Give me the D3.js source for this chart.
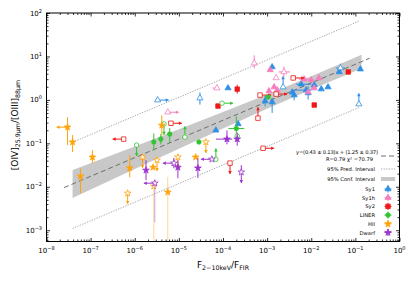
<!DOCTYPE html>
<meta charset="utf-8">
<head>
<script src="https://d3js.org/d3.v7.min.js"></script>
<style>
  body { margin: 0; background: #fff; }
  text { font-family: "DejaVu Sans", sans-serif; fill: #000; }
</style>
</head>
<body>
<div id="chart"></div>
<script>
// ---- data ----
// row: [x, y, open, limit(l/r/u/d), xerrLo, xerrHi, yerrLo, yerrHi]  (errors in dex)
var sy1 = [
  [1.3e-4, 1.87, 0, ''], [6.9e-5, 0.20, 0, ''], [2.2e-4, 0.28, 0, ''],
  [9.0e-4, 0.94, 0, '', 0, 0, 0.12, 0.12], [1.3e-3, 0.89, 0, '', 0, 0, 0.25, 0.1],
  [1.3e-3, 5.7, 0, ''], [3.7e-3, 1.5, 0, ''], [4.1e-3, 1.29, 0, '', 0, 0, 0.12, 0.12],
  [5.9e-3, 2.3, 0, '', 0.12, 0.23], [7.7e-3, 1.68, 0, '', 0.25, 0.12],
  [1.17e-2, 2.19, 0, '', 0, 0, 0.1, 0.1], [8.5e-3, 1.44, 0, '', 0, 0, 0.15, 0.15],
  [1.69e-2, 1.77, 0, ''], [2.4e-2, 1.97, 0, ''], [4.3e-2, 4.4, 0, ''], [0.13, 5.1, 0, ''],
  [3.3e-6, 0.99, 1, 'r'], [3.0e-5, 1.1, 1, '', 0, 0, 0.15, 0.13],
  [2.3e-3, 1.97, 1, 'u'], [0.12, 0.80, 1, 'u'], [4.6e-2, 5.4, 1, '', 0.1, 0.1, 0.1, 0.1]
];
var sy1h = [
  [5.1e-4, 7.0, 1, '', 0, 0, 0.12, 0.18], [7.3e-5, 1.87, 1, '', 0.1, 0],
  [5.6e-6, 0.52, 1, 'r'], [2.4e-3, 4.4, 1, '', 0.12, 0.14, 0.12, 0.12], [1.6e-3, 3.2, 1, ''],
  [6.9e-3, 3.0, 0, '', 0.12, 0.12], [1.0e-2, 2.86, 0, ''], [1.17e-2, 1.87, 0, ''],
  [1.44e-3, 1.97, 0, ''], [1.7e-3, 1.68, 0, ''], [8.5e-3, 1.51, 0, ''],
  [1.1e-3, 1.6, 0, ''], [1.17e-3, 4.9, 0, ''], [1.5e-2, 3.2, 0, '']
];
var sy2 = [
  [2.1e-4, 1.77, 0, '', 0, 0, 0.1, 0.1], [7.7e-5, 0.72, 0, ''], [1.17e-2, 0.76, 0, ''],
  [6.9e-2, 4.4, 0, ''], [5.6e-7, 0.125, 1, 'l'], [6.6e-6, 0.29, 1, 'r'],
  [1.44e-4, 0.035, 1, 'd'], [8.1e-4, 0.077, 1, 'r'], [6.2e-4, 0.38, 1, 'u'],
  [6.9e-4, 1.29, 1, 'r'], [3.9e-3, 3.2, 1, 'r'], [1.6e-3, 1.36, 1, 'r']
];
var liner = [
  [2.7e-6, 0.107, 0, '', 0, 0, 0.19, 0.2], [3.9e-6, 0.125, 0, '', 0, 0, 0.12, 0.12],
  [6.2e-6, 0.163, 0, '', 0, 0, 0.2, 0.14], [2.85e-5, 0.107, 0, ''],
  [2.0e-4, 0.22, 0, '', 0.18, 0.18, 0.12, 0.28], [1.05e-3, 1.16, 0, ''],
  [4.6e-6, 0.28, 1, 'd'], [1.1e-6, 0.091, 1, 'd'], [1.37e-5, 0.139, 1, 'u'],
  [6.9e-5, 0.043, 1, 'u'], [9.5e-5, 0.84, 1, 'r'], [2.1e-4, 0.147, 1, '']
];
var hii = [
  [3.0e-8, 0.236, 0, 'l', 0, 0, 0.41, 0.23], [3.9e-8, 0.107, 0, '', 0, 0, 0.23, 0.16],
  [1.1e-7, 0.048, 0, '', 0, 0, 0.14, 0.16], [5.9e-8, 0.0175, 0, '', 0, 0, 0.39, 0.18],
  [7.7e-7, 0.027, 0, '', 0, 0, 0.21, 0.3], [6.9e-7, 0.0071, 1, 'd'],
  [1.5e-6, 0.048, 1, 'd'], [2.6e-6, 0.028, 0, ''], [3.2e-6, 0.041, 1, 'd'],
  [2.7e-6, 0.0103, 1, '', 0, 0, 3, 0.12], [5.6e-6, 0.0075, 0, '', 0, 0, 3, 0.35],
  [9.5e-6, 0.048, 1, 'd'], [2.4e-5, 0.048, 0, ''], [4.1e-5, 0.107, 1, 'd'],
  [4.1e-6, 0.26, 0, '', 0, 0, 0.23, 0.23]
];
var dwarf = [
  [1.8e-6, 0.024, 0, '', 0, 0, 0.23, 0.23], [7.7e-6, 0.035, 1, 'l', 0, 0, 0.12, 0.12],
  [9.5e-6, 0.028, 0, '', 0, 0, 0.25, 0.16], [2.85e-6, 0.0121, 1, 'l', 0, 0, 0.9, 0],
  [2.7e-5, 0.027, 0, '', 0, 0, 0.23, 0.23], [5.6e-5, 0.043, 1, 'l'],
  [2.6e-4, 0.0217, 1, 'd', 0, 0, 0, 0.16], [1.23e-4, 0.125, 0, '', 0.25, 0.12, 0.12, 0.2],
  [2.1e-4, 0.125, 0, '', 0, 0, 0.15, 0.15]
];

// fit: log y = a log x + b
var fitSlope = 0.43, fitIntercept = 1.25;
var fitX = [2.5e-8, 0.21];
// 95% prediction interval (straight dotted lines)
var predX = [3.9e-8, 0.125];
var predUpper = [0.106, 65.9];
var predLower = [1.1e-3, 0.676];
// 95% confidence band
var bandX = [3.9e-8, 1e-6, 1e-5, 1e-4, 1e-3, 1e-2, 0.138];
var bandLo = [5.5e-3, 2.57e-2, 7.55e-2, 0.219, 0.625, 1.73, 5.25];
var bandHi = [2.42e-2, 8.5e-2, 0.21, 0.524, 1.33, 3.49, 10.96];

var xMajor = [1e-8, 1e-7, 1e-6, 1e-5, 1e-4, 1e-3, 1e-2, 1e-1, 1];
var xExp = ["−8", "−7", "−6", "−5", "−4", "−3", "−2", "−1", "0"];
var yMajor = [1e-3, 1e-2, 1e-1, 1, 10, 100];
var yExp = ["−3", "−2", "−1", "0", "1", "2"];

var legendText = ["y=(0.43 ± 0.13)x + (1.25 ± 0.37)", "R=0.79  χ² =70.79",
                  "95% Pred. Interval", "95% Conf. Interval"];

// ---- chart ----
var W = 415, H = 282;
var L = 46.5, R = 399.5, T = 13, B = 241.5;

var svg = d3.select("#chart").append("svg")
  .attr("width", W).attr("height", H);

var x = d3.scaleLog().domain([1e-8, 1]).range([L, R]);
var y = d3.scaleLog().domain([5.5e-4, 100]).range([B, T]);

svg.append("clipPath").attr("id", "clip")
  .append("rect").attr("x", L).attr("y", T).attr("width", R - L).attr("height", B - T);

var plot = svg.append("g").attr("clip-path", "url(#clip)");

// confidence band
var band = bandX.map(function(v, i) { return [v, bandLo[i], bandHi[i]]; });
plot.append("path")
  .datum(band)
  .attr("fill", "#c8c8c8")
  .attr("d", d3.area()
    .x(function(d) { return x(d[0]); })
    .y0(function(d) { return y(d[1]); })
    .y1(function(d) { return y(d[2]); }));

// prediction lines
[predUpper, predLower].forEach(function(p) {
  plot.append("line")
    .attr("x1", x(predX[0])).attr("y1", y(p[0]))
    .attr("x2", x(predX[1])).attr("y2", y(p[1]))
    .attr("stroke", "#a8a8a8").attr("stroke-width", 1)
    .attr("stroke-dasharray", "1.3,1.3");
});

// fit line
var fitY = fitX.map(function(v) { return Math.pow(10, fitSlope * Math.log10(v) + fitIntercept); });
plot.append("line")
  .attr("x1", x(fitX[0])).attr("y1", y(fitY[0]))
  .attr("x2", x(fitX[1])).attr("y2", y(fitY[1]))
  .attr("stroke", "#6e6e6e").attr("stroke-width", 1)
  .attr("stroke-dasharray", "5,3");

var classes = [
  { name: "Sy1", rows: sy1, color: "#2e8fe6", shape: d3.symbolTriangle, size: 16 },
  { name: "Sy1h", rows: sy1h, color: "#f57ebe", shape: d3.symbolTriangle, size: 16 },
  { name: "Sy2", rows: sy2, color: "#f01818", shape: d3.symbolSquare, size: 20 },
  { name: "LINER", rows: liner, color: "#33c433", shape: d3.symbolCircle, size: 16 },
  { name: "HII", rows: hii, color: "#ffa30a", shape: d3.symbolStar, size: 14 },
  { name: "Dwarf", rows: dwarf, color: "#9a35cc", shape: d3.symbolStar, size: 14 }
];

var arrowDex = 0.25;

function seg(g, x1, y1, x2, y2, color, op) {
  g.append("line")
    .attr("x1", x1).attr("y1", y1).attr("x2", x2).attr("y2", y2)
    .attr("stroke", color).attr("stroke-width", 1)
    .attr("stroke-opacity", op || 1);
}

function arrow(g, x1, y1, x2, y2, color) {
  seg(g, x1, y1, x2, y2, color);
  var dx = x2 - x1, dy = y2 - y1, len = Math.sqrt(dx * dx + dy * dy);
  var ux = dx / len, uy = dy / len;
  var bx = x2 - ux * 3, by = y2 - uy * 3;
  g.append("path")
    .attr("d", "M" + x2 + "," + y2 + "L" + (bx - uy * 1.8) + "," + (by + ux * 1.8) +
      "L" + (bx + uy * 1.8) + "," + (by - ux * 1.8) + "Z")
    .attr("fill", color);
}

classes.forEach(function(c) {
  var g = plot.append("g");
  c.rows.forEach(function(d) {
    var cx = x(d[0]), cy = y(d[1]);
    var xl = d[4] || 0, xh = d[5] || 0, yl = d[6] || 0, yh = d[7] || 0;
    if (xl || xh) seg(g, x(d[0] / Math.pow(10, xl)), cy, x(d[0] * Math.pow(10, xh)), cy, c.color);
    if (yl || yh) {
      var long = (yl + yh) > 0.8;
      seg(g, cx, y(d[1] / Math.pow(10, yl)), cx, y(d[1] * Math.pow(10, yh)), c.color, long ? 0.45 : 1);
    }
    var f = Math.pow(10, arrowDex);
    if (d[3] === 'r') arrow(g, cx, cy, x(d[0] * f), cy, c.color);
    if (d[3] === 'l') arrow(g, cx, cy, x(d[0] / f), cy, c.color);
    if (d[3] === 'u') arrow(g, cx, cy, cx, y(d[1] * f), c.color);
    if (d[3] === 'd') arrow(g, cx, cy, cx, y(d[1] / f), c.color);
    g.append("path")
      .attr("d", d3.symbol().type(c.shape).size(c.size)())
      .attr("transform", "translate(" + cx + "," + cy + ")")
      .attr("fill", d[2] ? "#fff" : c.color)
      .attr("stroke", c.color).attr("stroke-width", 0.8);
  });
});

// ---- axes ----
function minors(lo, hi) {
  var out = [];
  for (var e = lo; e < hi; e++) for (var k = 2; k < 10; k++) out.push(k * Math.pow(10, e));
  return out;
}
var xMinor = minors(-8, 0);
var yMinor = minors(-4, 2).filter(function(v) { return v >= 5.5e-4; });

function ax(gen, scale, vals, size, tr) {
  var g = svg.append("g").attr("transform", tr)
    .call(gen(scale).tickValues(vals).tickSize(size).tickSizeOuter(0).tickFormat(""));
  g.select(".domain").remove();
  g.selectAll("line").attr("stroke", "#000").attr("stroke-width", 0.8);
}
ax(d3.axisBottom, x, xMajor, -3.5, "translate(0," + B + ")");
ax(d3.axisBottom, x, xMinor, -2, "translate(0," + B + ")");
ax(d3.axisTop, x, xMajor, -3.5, "translate(0," + T + ")");
ax(d3.axisTop, x, xMinor, -2, "translate(0," + T + ")");
ax(d3.axisLeft, y, yMajor, -3.5, "translate(" + L + ",0)");
ax(d3.axisLeft, y, yMinor, -2, "translate(" + L + ",0)");
ax(d3.axisRight, y, yMajor, -3.5, "translate(" + R + ",0)");
ax(d3.axisRight, y, yMinor, -2, "translate(" + R + ",0)");

svg.append("rect")
  .attr("x", L).attr("y", T).attr("width", R - L).attr("height", B - T)
  .attr("fill", "none").attr("stroke", "#000").attr("stroke-width", 1);

// tick labels
xMajor.forEach(function(v, i) {
  var t = svg.append("text").attr("x", x(v)).attr("y", 253)
    .attr("text-anchor", "middle").attr("font-size", 7);
  t.append("tspan").text("10");
  t.append("tspan").attr("dy", -3).attr("font-size", 5).text(xExp[i]);
});
yMajor.forEach(function(v, i) {
  var t = svg.append("text").attr("x", 42).attr("y", y(v) + 2.5)
    .attr("text-anchor", "end").attr("font-size", 7);
  t.append("tspan").text("10");
  t.append("tspan").attr("dy", -3).attr("font-size", 5).text(yExp[i]);
});

// axis titles
var xt = svg.append("text").attr("x", 223).attr("y", 268)
  .attr("text-anchor", "middle").attr("font-size", 9);
xt.append("tspan").text("F");
xt.append("tspan").attr("dy", 2).attr("font-size", 6.3).text("2−10keV");
xt.append("tspan").attr("dy", -2).text("/F");
xt.append("tspan").attr("dy", 2).attr("font-size", 6.3).text("FIR");

var yt = svg.append("text").attr("transform", "translate(18,125) rotate(-90)")
  .attr("text-anchor", "middle").attr("font-size", 9);
yt.append("tspan").text("[OIV]");
yt.append("tspan").attr("dy", 2).attr("font-size", 6.3).text("25.9μm");
yt.append("tspan").attr("dy", -2).text("/[OIII]");
yt.append("tspan").attr("dy", 2).attr("font-size", 6.3).text("88μm");

// ---- legend ----
var lx = 375, mx = 388;
var lg = svg.append("g").attr("font-size", 5.2);
lg.append("text").attr("x", lx + 3).attr("y", 154).attr("text-anchor", "end").attr("font-size", 5.2)
  .attr("textLength", 82).attr("lengthAdjust", "spacing").text(legendText[0]);
lg.append("text").attr("x", lx - 2).attr("y", 161).attr("text-anchor", "end").attr("font-size", 5.2).text(legendText[1]);
lg.append("line").attr("x1", 381).attr("x2", 395).attr("y1", 156).attr("y2", 156)
  .attr("stroke", "#6e6e6e").attr("stroke-dasharray", "5,3");
lg.append("text").attr("x", lx).attr("y", 171).attr("text-anchor", "end").attr("font-size", 5.2).text(legendText[2]);
lg.append("line").attr("x1", 381).attr("x2", 395).attr("y1", 169).attr("y2", 169)
  .attr("stroke", "#a8a8a8").attr("stroke-dasharray", "1.3,1.3");
lg.append("text").attr("x", lx).attr("y", 181).attr("text-anchor", "end").attr("font-size", 5.2).text(legendText[3]);
lg.append("rect").attr("x", 381).attr("y", 177).attr("width", 14).attr("height", 4).attr("fill", "#c8c8c8");

classes.forEach(function(c, i) {
  var cy = 189 + i * 8.7;
  lg.append("text").attr("x", lx).attr("y", cy + 2).attr("text-anchor", "end").text(c.name);
  seg(lg, mx - 3.5, cy, mx + 3.5, cy, c.color);
  seg(lg, mx, cy - 3.5, mx, cy + 3.5, c.color);
  lg.append("path")
    .attr("d", d3.symbol().type(c.shape).size(c.size)())
    .attr("transform", "translate(" + mx + "," + cy + ")")
    .attr("fill", c.color).attr("stroke", c.color).attr("stroke-width", 0.8);
});
</script>
</body>
